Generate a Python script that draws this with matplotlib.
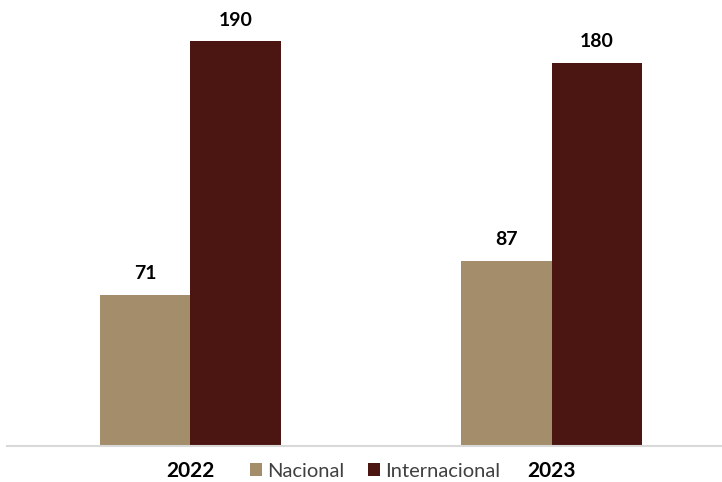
import matplotlib.pyplot as plt
import numpy as np

years = ['2022', '2023']
nacional = [71, 87]
internacional = [190, 180]

c_nac = '#A38D6A'
c_int = '#4B1612'

plt.rcParams['font.family'] = ['Lato', 'DejaVu Sans']

fig = plt.figure(figsize=(7.22, 4.82), dpi=100)
ax = fig.add_axes([7 / 722, 36 / 482, 715 / 722, 446 / 482])

x = np.arange(len(years))
w = 0.25
b1 = ax.bar(x - w / 2, nacional, w, color=c_nac, label='Nacional')
b2 = ax.bar(x + w / 2, internacional, w, color=c_int, label='Internacional')

for bars in (b1, b2):
    for r in bars:
        ax.annotate(f'{r.get_height():.0f}', (r.get_x() + r.get_width() / 2, r.get_height()),
                    xytext=(0, 9), textcoords='offset points', ha='center', va='bottom',
                    fontsize=14, fontweight='bold', color='black')

ax.set_xlim(-0.508, 1.472)
ax.set_ylim(0, 209.4)
ax.set_yticks([])
ax.set_xticks(x)
ax.set_xticklabels(years, fontsize=15, fontweight='bold')
ax.tick_params(axis='x', length=0, pad=11)
for s in ['top', 'right', 'left']:
    ax.spines[s].set_visible(False)
ax.spines['bottom'].set_color('#d9d9d9')
ax.spines['bottom'].set_linewidth(1.5)

ax.legend(loc='center', bbox_to_anchor=(0.515, -0.057), ncol=2, frameon=False,
          fontsize=14.5, handlelength=0.6, handleheight=0.6, handletextpad=0.25,
          columnspacing=1.2, labelcolor='#404040')

fig.savefig('out.png', dpi=100)
